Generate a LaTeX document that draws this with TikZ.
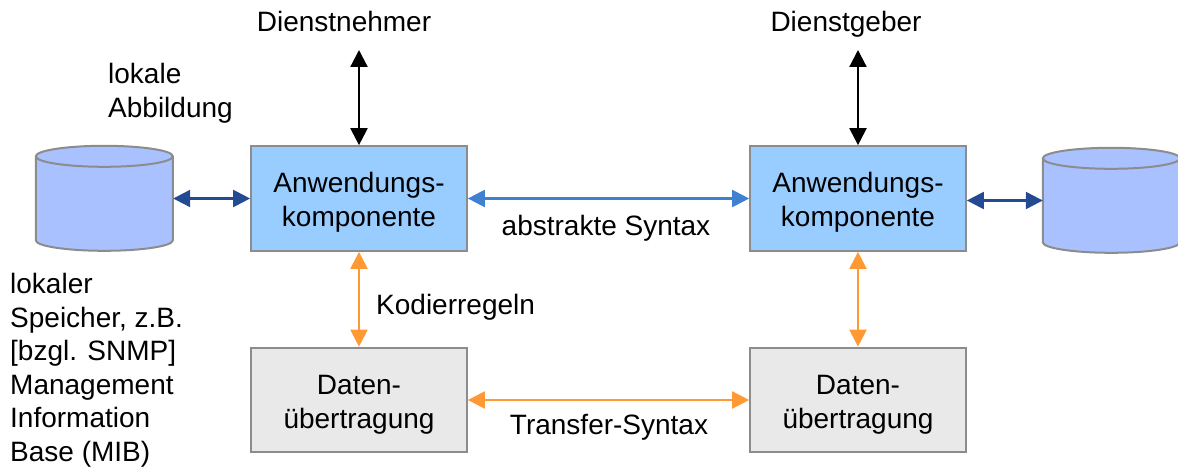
\documentclass[tikz,border=0pt]{standalone}
\usepackage{fontspec}
\setmainfont{Liberation Sans}
\usetikzlibrary{arrows.meta}
\definecolor{boxblue}{HTML}{99CCFF}
\definecolor{cylblue}{HTML}{A9C1FF}
\definecolor{boxgray}{HTML}{E9E9E9}
\definecolor{edgegray}{HTML}{8C8C8C}
\definecolor{darkarrow}{HTML}{254A94}
\definecolor{midarrow}{HTML}{4080D0}
\definecolor{orangearrow}{HTML}{FF9933}
\tikzset{
  x=1pt,y=-1pt,
  labeltext/.style={font=\fontsize{28}{33.6}\selectfont,align=center,inner sep=0pt,text=black},
  lefttext/.style={labeltext,align=left,anchor=north west},
  baselabel/.style={labeltext,anchor=base},
  compbox/.style={draw=edgegray,line width=2.2pt,minimum width=215.5pt,minimum height=104.5pt,inner sep=0pt},
  appbox/.style={compbox,fill=boxblue},
  databox/.style={compbox,fill=boxgray},
  boxtext/.style={labeltext},
  storeframe/.style={minimum width=137pt,minimum height=105pt,inner sep=0pt},
  cylbody/.style={fill=cylblue,draw=edgegray,line width=2pt},
  dbl/.style={{Triangle[length=17pt,width=17pt]}-{Triangle[length=17pt,width=17pt]},line width=2.2pt},
}
\newcommand{\storecyl}[1]{%
  \draw[cylbody] (#1.north west) ++(0,10.5) -- ++(0,84) arc[x radius=68.5pt,y radius=10.5pt,start angle=180,end angle=360] -- ++(0,-84) arc[x radius=68.5pt,y radius=10.5pt,start angle=0,end angle=180] -- cycle;
  \draw[cylbody,fill=none] (#1.north west) ++(0,10.5) arc[x radius=68.5pt,y radius=10.5pt,start angle=180,end angle=360];
}
\begin{document}
\begin{tikzpicture}
\useasboundingbox (0,0) rectangle (1178,473);
\node[appbox] (appL) at (359,198.5) {};
\node[appbox] (appR) at (858,198.5) {};
\node[databox] (dataL) at (359,400) {};
\node[databox] (dataR) at (858,400) {};
\node[boxtext] (appLt) at (359,202) {Anwendungs-\\komponente};
\node[boxtext] (appRt) at (858,202) {Anwendungs-\\komponente};
\node[boxtext] (dataLt) at (359,405) {Daten-\\übertragung};
\node[boxtext] (dataRt) at (858,405) {Daten-\\übertragung};
\node[storeframe] (storeL) at (104.5,198.5) {};
\node[storeframe] (storeR) at (1111.5,200.5) {};
\storecyl{storeL}
\storecyl{storeR}
\coordinate (topL) at (359,50);
\coordinate (topR) at (858,50);
\node[baselabel] (userL) at (344,32) {Dienstnehmer};
\node[baselabel] (userR) at (846,32) {Dienstgeber};
\node[lefttext] (mapL) at (108,63) {lokale\\Abbildung};
\node[lefttext] (storeText) at (10,273) {lokaler\\Speicher, z.B.\\{[}bzgl. SNMP{]}\\Management\\Information\\Base (MIB)};
\node[baselabel] (absyn) at (606,236) {abstrakte Syntax};
\node[baselabel,anchor=base west] (coding) at (376,314) {Kodierregeln};
\node[baselabel] (transyn) at (609,434) {Transfer-Syntax};
\draw[dbl,black] (topL) -- (appL.north);
\draw[dbl,black] (topR) -- (appR.north);
\draw[dbl,darkarrow] (storeL.east) -- (appL.west);
\draw[dbl,darkarrow] (appR.east |- storeR.west) -- (storeR.west);
\draw[dbl,midarrow] (appL.east) -- (appR.west);
\draw[dbl,orangearrow] (appL.south) -- (dataL.north);
\draw[dbl,orangearrow] (appR.south) -- (dataR.north);
\draw[dbl,orangearrow] (dataL.east) -- (dataR.west);
\end{tikzpicture}
\end{document}
